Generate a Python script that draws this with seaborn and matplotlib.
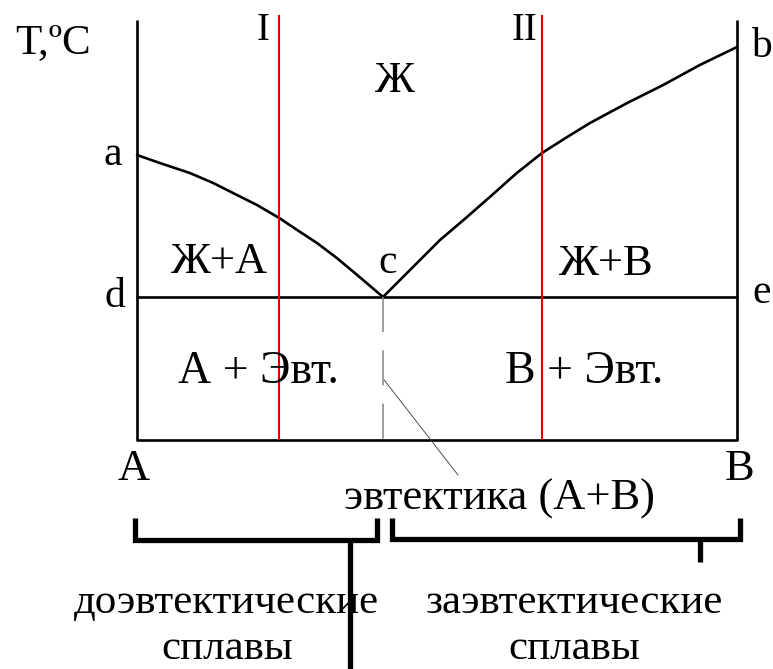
import matplotlib
matplotlib.use("Agg")
import matplotlib.pyplot as plt
import numpy as np
import pandas as pd
import seaborn as sns

# phase diagram values (composition, %B; temperature, arbitrary units)
comp_range = [0, 100]
liq_a_comp = [0, 3.8, 8.8, 12.7, 16, 20, 23.7, 27.2, 30, 33.3, 36.7, 41]
liq_a_temp = [285, 277, 267, 257, 247, 235, 222, 208, 197, 182, 165, 143]
liq_b_comp = [41, 46, 50.5, 55, 58.8, 63.3, 67.5, 71.7, 75.5, 81.7, 87.7, 93.8, 100]
liq_b_temp = [143, 173, 200, 223, 243, 267, 287, 303, 317, 337, 355, 375, 393]
eut_comp = 41
eut_temp = 143
alloys = [23.7, 67.5]
alloy_names = ["I", "II"]

sns.set_theme(style="white")
plt.rcParams["font.family"] = ["Liberation Serif", "DejaVu Serif"]

fig = plt.figure(figsize=(7.73, 6.69), dpi=100)
ax = fig.add_axes([0, 0, 1, 1])
ax.set_xlim(-137 / 6, (773 - 137) / 6)
ax.set_ylim(440 - 669, 440)
ax.axis("off")


def at(px, py):
    # picture pixel -> data position (for labels only)
    return (px - 137) / 6, 440 - py


black = dict(color="black", lw=1.9)

# liquidus a-c and c-b
df_a = pd.DataFrame({"comp": liq_a_comp, "temp": liq_a_temp})
df_b = pd.DataFrame({"comp": liq_b_comp, "temp": liq_b_temp})
sns.lineplot(data=df_a, x="comp", y="temp", ax=ax, **black)
sns.lineplot(data=df_b, x="comp", y="temp", ax=ax, **black)

# solidus d-e and composition axis A-B
df_sol = pd.DataFrame({"comp": comp_range, "temp": [eut_temp, eut_temp]})
df_base = pd.DataFrame({"comp": comp_range, "temp": [0, 0]})
sns.lineplot(data=df_sol, x="comp", y="temp", ax=ax, **black)
sns.lineplot(data=df_base, x="comp", y="temp", ax=ax, **black)

# temperature axes for pure A and B
ax.vlines(comp_range, 0, 420, colors="black", lw=1.9)

# alloys I and II
ax.vlines(alloys, 0, 425, colors="#e00000", lw=1.5)

# eutectic composition (dashed)
ax.plot([eut_comp, eut_comp], [eut_temp, 0], color="#8c8c8c", lw=1.2,
        dashes=(21, 11))
ax.plot([eut_comp + 0.2, 53.5], [60, -35], color="#333333", lw=0.6)

# brackets under the axis
bk = dict(color="black", lw=3.8, solid_joinstyle="miter", solid_capstyle="butt")
ax.plot([-0.3, -0.3, eut_comp - 1, eut_comp - 1], [-78, -100, -100, -78], **bk)
ax.plot([eut_comp + 1.5, eut_comp + 1.5, 100.5, 100.5], [-78, -99, -99, -78], **bk)
ax.plot([35.5, 35.5], [-100, -229], **bk)
ax.plot([93.8, 93.8], [-99, -122], **bk)

fs = 32
labels = [
    ("T,ºC", 53, 53, 31),
    (alloy_names[0], 263, 40, 28),
    (alloy_names[1], 525, 40, 28),
    ("Ж", 395, 92, fs),
    ("a", 113, 165, 30),
    ("b", 761, 57, 30),
    ("Ж+А", 220, 273, fs),
    ("c", 388, 273, 30),
    ("Ж+В", 606, 275, fs),
    ("d", 115, 307, 30),
    ("e", 762, 303, 30),
    ("А + Эвт.", 258, 383, 33),
    ("В + Эвт.", 584, 383, 33),
    ("А", 134, 480, fs),
    ("В", 740, 480, fs),
    ("эвтектика (А+В)", 500, 510, 32),
    ("доэвтектические", 226, 613, 31),
    ("сплавы", 227, 659, 31),
    ("заэвтектические", 574, 613, 31),
    ("сплавы", 574, 659, 31),
]
for s, px, py, size in labels:
    x, y = at(px, py)
    ax.text(x, y, s, ha="center", va="baseline", fontsize=size, color="black")

fig.savefig("out.png", dpi=100, facecolor="white")
